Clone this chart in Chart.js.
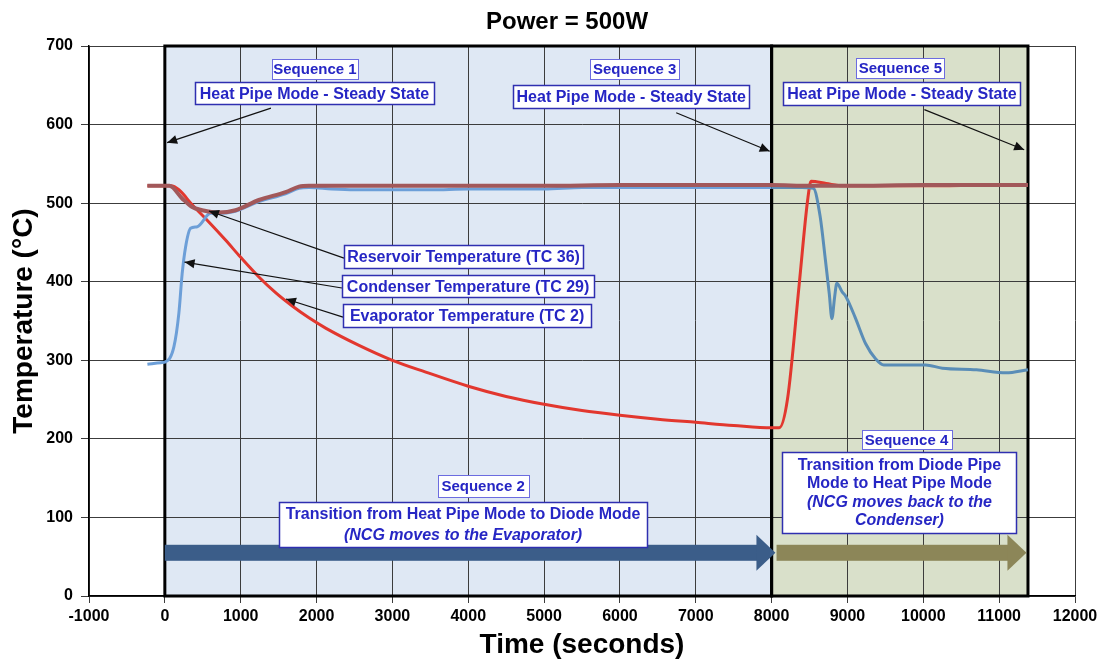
<!DOCTYPE html>
<html>
<head>
<meta charset="utf-8">
<title>Power = 500W</title>
<script src="https://cdn.jsdelivr.net/npm/chart.js"></script>
<style>
  html, body { margin: 0; padding: 0; background: #fff; }
  #wrap { width: 1105px; height: 663px; position: relative; }
</style>
</head>
<body>
<div id="wrap"><canvas id="chart"></canvas></div>
<script>
// chart texts
const chartTitle = 'Power = 500W';
const xTitle = 'Time (seconds)';
const yTitle = 'Temperature (°C)';

// axis ranges
const xMin = -1000, xMax = 12000, xStep = 1000;
const yMin = 0, yMax = 700, yStep = 100;

// Reservoir Temperature (TC 36)
const reservoirTime = [-230, 60, 228, 360, 492, 712, 932, 1240, 1592, 1768, 1900, 2500, 3000, 4000, 5000, 6000, 7000, 8000, 8500, 9000, 10000, 11000, 11380];
const reservoirTemp = [522, 522, 506, 495, 491, 488, 491, 504, 514, 521, 522, 522, 522, 522, 522, 523, 523, 523, 522, 522, 523, 523, 523];

// Condenser Temperature (TC 29)
const condenserTime = [-230, -50, 9, 119, 185, 228, 273, 339, 427, 603, 700, 900, 1240, 1592, 1768, 1900, 2200, 2500, 3000, 3500, 4000, 5000, 5500, 6000, 7000, 8000, 8400, 8550, 8640, 8710, 8760, 8795, 8830, 8860, 8930, 8980, 9100, 9240, 9370, 9480, 9740, 10030, 10250, 10700, 11090, 11380];
const condenserTemp = [295, 297, 298, 317, 360, 410, 444, 468, 470, 487, 487, 489, 502, 512, 519, 520, 518, 517, 517, 517, 518, 518, 520, 520, 520, 520, 520, 519, 483, 427, 385, 353, 380, 398, 387, 381, 355, 321, 302, 294, 294, 294, 290, 288, 284, 288];

// Evaporator Temperature (TC 2)
const evapTime = [-230, 80, 185, 360, 580, 800, 1000, 1240, 1460, 1680, 1900, 2120, 2560, 3000, 3440, 4000, 4500, 5000, 5500, 6000, 6500, 7000, 7500, 8000, 8100, 8210, 8365, 8475, 8520, 8720, 8940, 10000, 11000, 11380];
const evapTemp = [522, 522, 517, 498, 476, 453, 431, 406, 386, 369, 354, 341, 319, 300, 285, 267, 254, 244, 236, 230, 225, 221, 217, 214, 214, 251, 398, 504, 528, 525, 522, 522, 523, 523];

// sequence phases (seconds)
const phaseStart = [0, 8000];
const phaseEnd = [8000, 11380];
const phaseFill = ['#dfe8f4', '#d9e0ca'];

const toPoints = (xs, ys) => xs.map((x, i) => ({ x: x, y: ys[i] }));

// annotation boxes: centre in data units, size in px
const notes = [
  { x: 1979, y: 671, w: 86, h: 20, size: 15, thin: true, lines: ['Sequence 1'] },
  { x: 1973, y: 640, w: 239, h: 22, size: 16, lines: ['Heat Pipe Mode - Steady State'] },
  { x: 6195, y: 671, w: 89, h: 20, size: 15, thin: true, lines: ['Sequence 3'] },
  { x: 6149, y: 636, w: 236, h: 23, size: 16, lines: ['Heat Pipe Mode - Steady State'] },
  { x: 9698, y: 672, w: 88, h: 20, size: 15, thin: true, lines: ['Sequence 5'] },
  { x: 9718, y: 640, w: 237, h: 23, size: 16, lines: ['Heat Pipe Mode - Steady State'] },
  { x: 3939, y: 432, w: 239, h: 23, size: 16, lines: ['Reservoir Temperature (TC 36)'] },
  { x: 3998, y: 394, w: 252, h: 22, size: 16, lines: ['Condenser Temperature (TC 29)'] },
  { x: 3985, y: 357, w: 248, h: 23, size: 16, lines: ['Evaporator Temperature (TC 2)'] },
  { x: 4196, y: 140, w: 91, h: 22, size: 15, thin: true, lines: ['Sequence 2'] },
  { x: 3932, y: 91, w: 368, h: 45, size: 16, step: 21, italicFrom: 1,
    lines: ['Transition from Heat Pipe Mode to Diode Mode', '(NCG moves to the Evaporator)'] },
  { x: 9779, y: 199, w: 90, h: 19, size: 15, thin: true, lines: ['Sequence 4'] },
  { x: 9685, y: 132, w: 234, h: 81, size: 16, step: 18.5, italicFrom: 2,
    lines: ['Transition from Diode Pipe', 'Mode to Heat Pipe Mode', '(NCG moves back to the', 'Condenser)'] }
];

// thin pointer arrows, data units [fromX, fromY, toX, toY]
const pointers = [
  [1399, 621, 30, 577],
  [6742, 615, 7975, 566],
  [10014, 619, 11330, 568],
  [2362, 430, 581, 490],
  [2335, 392, 260, 425],
  [2349, 355, 1597, 378]
];

// big phase arrows along the bottom
const bigArrows = [
  { from: 0, to: 8050, y: 55, color: '#3b5d89' },
  { from: 8065, to: 11360, y: 55, color: '#8c8658' }
];

const FONT = '"Liberation Sans", Arial, Helvetica, sans-serif';

function arrowHead(ctx, x1, y1, x2, y2, len, half) {
  const a = Math.atan2(y2 - y1, x2 - x1);
  ctx.beginPath();
  ctx.moveTo(x2, y2);
  ctx.lineTo(x2 - len * Math.cos(a) + half * Math.sin(a), y2 - len * Math.sin(a) - half * Math.cos(a));
  ctx.lineTo(x2 - len * Math.cos(a) - half * Math.sin(a), y2 - len * Math.sin(a) + half * Math.cos(a));
  ctx.closePath();
  ctx.fill();
}

const decorPlugin = {
  id: 'decor',
  beforeDraw(chart) {
    const { ctx, scales: { x, y } } = chart;
    ctx.save();
    phaseStart.forEach((s, i) => {
      const l = x.getPixelForValue(s), r = x.getPixelForValue(phaseEnd[i]);
      ctx.fillStyle = phaseFill[i];
      ctx.fillRect(l, y.getPixelForValue(yMax), r - l, y.getPixelForValue(yMin) - y.getPixelForValue(yMax));
    });
    ctx.restore();
  },
  beforeDatasetsDraw(chart) {
    const { ctx, scales: { x, y } } = chart;
    ctx.save();
    // phase outlines
    ctx.strokeStyle = '#000';
    ctx.lineWidth = 3;
    phaseStart.forEach((s, i) => {
      const l = x.getPixelForValue(s), r = x.getPixelForValue(phaseEnd[i]);
      const t = y.getPixelForValue(yMax), b = y.getPixelForValue(yMin);
      ctx.strokeRect(l, t, r - l, b - t);
    });
    // big arrows
    bigArrows.forEach(a => {
      const x1 = x.getPixelForValue(a.from), x2 = x.getPixelForValue(a.to);
      const cy = y.getPixelForValue(a.y);
      ctx.fillStyle = a.color;
      ctx.fillRect(x1, cy - 8, x2 - x1 - 18, 16);
      ctx.beginPath();
      ctx.moveTo(x2, cy);
      ctx.lineTo(x2 - 19, cy - 18);
      ctx.lineTo(x2 - 19, cy + 18);
      ctx.closePath();
      ctx.fill();
    });
    ctx.restore();
  },
  afterDatasetsDraw(chart) {
    const { ctx, scales: { x, y } } = chart;
    ctx.save();
    // pointers
    ctx.strokeStyle = '#111';
    ctx.fillStyle = '#111';
    ctx.lineWidth = 1.2;
    pointers.forEach(p => {
      const x1 = x.getPixelForValue(p[0]), y1 = y.getPixelForValue(p[1]);
      const x2 = x.getPixelForValue(p[2]), y2 = y.getPixelForValue(p[3]);
      ctx.beginPath();
      ctx.moveTo(x1, y1);
      ctx.lineTo(x2, y2);
      ctx.stroke();
      arrowHead(ctx, x1, y1, x2, y2, 10, 4.5);
    });
    // text boxes
    notes.forEach(n => {
      const cx = x.getPixelForValue(n.x), cy = y.getPixelForValue(n.y);
      const l = Math.round(cx - n.w / 2) + 0.5, t = Math.round(cy - n.h / 2) + 0.5;
      ctx.fillStyle = '#fff';
      ctx.fillRect(l, t, n.w, n.h);
      ctx.strokeStyle = n.thin ? '#6c6ce0' : '#2f2fb0';
      ctx.lineWidth = n.thin ? 1 : 1.5;
      ctx.strokeRect(l, t, n.w, n.h);
      ctx.fillStyle = '#2626c4';
      ctx.textAlign = 'center';
      ctx.textBaseline = 'middle';
      const step = n.step || 0;
      const y0 = cy - step * (n.lines.length - 1) / 2 + 1;
      n.lines.forEach((txt, i) => {
        const it = n.italicFrom !== undefined && i >= n.italicFrom;
        ctx.font = (it ? 'italic ' : '') + 'bold ' + n.size + 'px ' + FONT;
        ctx.fillText(txt, cx, y0 + i * step);
      });
    });
    ctx.restore();
  },
  afterDraw(chart) {
    const { ctx } = chart;
    ctx.save();
    ctx.font = 'bold 24px ' + FONT;
    ctx.fillStyle = '#000';
    ctx.textAlign = 'center';
    ctx.textBaseline = 'middle';
    ctx.fillText(chartTitle, 567, 22);
    ctx.restore();
  }
};

new Chart(document.getElementById('chart'), {
  type: 'scatter',
  data: {
    datasets: [
      {
        label: 'Reservoir Temperature (TC 36)',
        data: toPoints(reservoirTime, reservoirTemp),
        showLine: true,
        borderColor: '#a2585a',
        borderWidth: 4,
        pointRadius: 0,
        cubicInterpolationMode: 'monotone'
      },
      {
        label: 'Condenser Temperature (TC 29)',
        data: toPoints(condenserTime, condenserTemp),
        showLine: true,
        borderColor: '#6d9fd8',
        borderWidth: 3,
        pointRadius: 0,
        cubicInterpolationMode: 'monotone',
        segment: {
          borderColor: c => (c.p0.parsed.x >= phaseEnd[0] ? '#5a8db7' : '#6d9fd8')
        }
      },
      {
        label: 'Evaporator Temperature (TC 2)',
        data: toPoints(evapTime, evapTemp),
        showLine: true,
        borderColor: '#e2372e',
        borderWidth: 3,
        pointRadius: 0,
        cubicInterpolationMode: 'monotone'
      }
    ]
  },
  options: {
    responsive: true,
    maintainAspectRatio: false,
    animation: false,
    devicePixelRatio: 1,
    layout: { padding: { top: 46, right: 30, left: 0, bottom: 0 } },
    plugins: {
      legend: { display: false },
      title: { display: false },
      tooltip: { enabled: false }
    },
    scales: {
      x: {
        type: 'linear',
        min: xMin,
        max: xMax,
        ticks: {
          stepSize: xStep,
          color: '#000',
          padding: 4,
          font: { family: FONT, size: 16, weight: 'bold' },
          callback: v => String(v)
        },
        grid: { color: '#3c3c3c', lineWidth: 1, tickLength: 7 },
        border: { color: '#000', width: 1.5 },
        title: {
          display: true,
          text: xTitle,
          color: '#000',
          font: { family: FONT, size: 28, weight: 'bold' },
          padding: { top: 0, bottom: 1 }
        },
        afterFit: s => { s.height = 67; }
      },
      y: {
        min: yMin,
        max: yMax,
        ticks: {
          stepSize: yStep,
          color: '#000',
          padding: 8,
          font: { family: FONT, size: 16, weight: 'bold' }
        },
        grid: { color: '#3c3c3c', lineWidth: 1, tickLength: 8 },
        border: { color: '#000', width: 1.5 },
        title: {
          display: true,
          text: yTitle,
          color: '#000',
          font: { family: FONT, size: 28, weight: 'bold' },
          padding: { top: 7, bottom: 0 }
        },
        afterFit: s => { s.width = 89; }
      }
    }
  },
  plugins: [decorPlugin]
});
</script>
</body>
</html>
